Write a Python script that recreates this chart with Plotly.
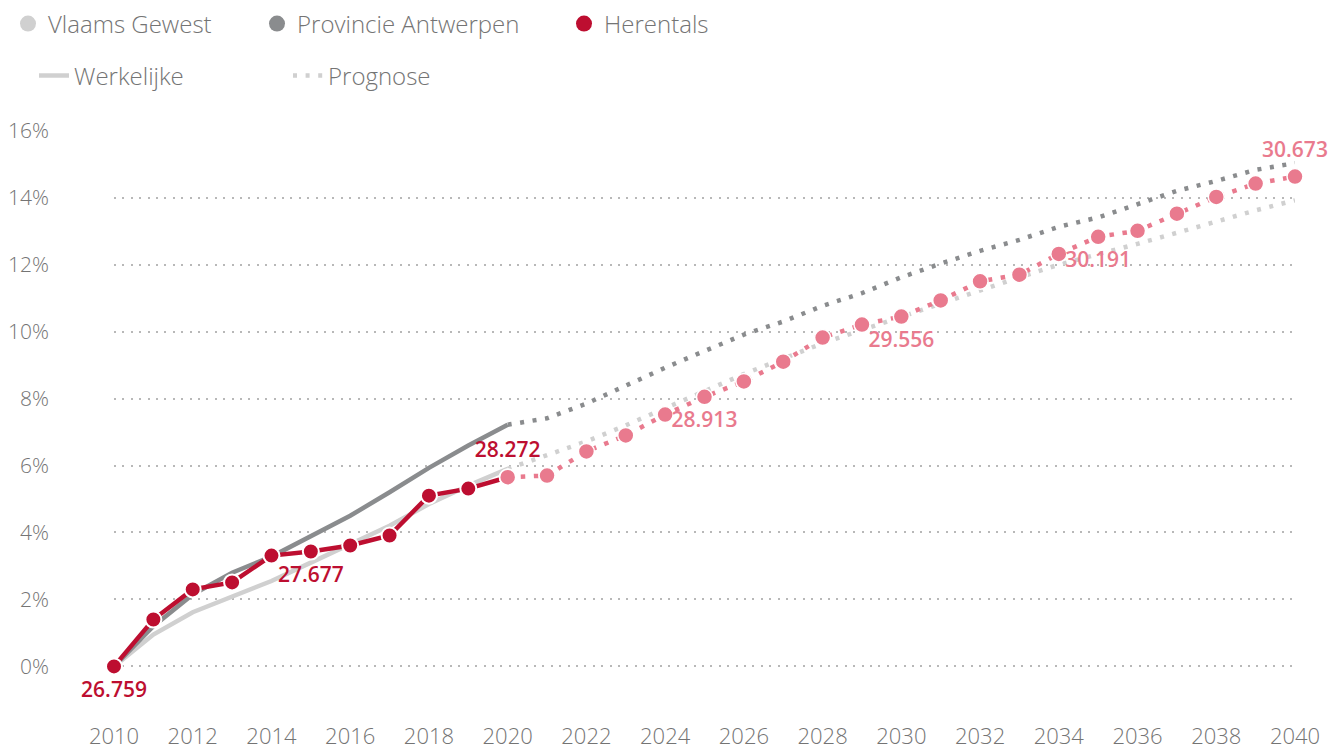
import plotly.graph_objects as go

# ---------------- data ----------------
years_actual = list(range(2010, 2021))
years_forecast = list(range(2020, 2041))

vlaams_actual = [0, 0.95, 1.62, 2.07, 2.55, 3.10, 3.65, 4.20, 4.85, 5.40, 5.90]
vlaams_forecast = [5.90, 6.30, 6.72, 7.20, 7.72, 8.24, 8.73, 9.19, 9.65, 10.05, 10.45,
                   10.85, 11.22, 11.62, 12.00, 12.30, 12.62, 12.95, 13.30, 13.62, 13.92]

antw_actual = [0, 1.20, 2.15, 2.80, 3.28, 3.88, 4.50, 5.20, 5.93, 6.60, 7.22]
antw_forecast = [7.22, 7.41, 7.85, 8.40, 8.92, 9.42, 9.91, 10.30, 10.77, 11.15, 11.62,
                 12.03, 12.41, 12.74, 13.13, 13.41, 13.80, 14.20, 14.50, 14.83, 15.03]

her_actual = [0, 1.40, 2.30, 2.51, 3.31, 3.43, 3.61, 3.91, 5.10, 5.31, 5.65]
her_forecast = [5.65, 5.70, 6.42, 6.90, 7.52, 8.05, 8.51, 9.10, 9.82, 10.21, 10.45,
                10.93, 11.50, 11.70, 12.32, 12.83, 13.01, 13.52, 14.02, 14.42, 14.63]

label_years = [2010, 2015, 2020, 2025, 2030, 2035, 2040]
label_values = [0, 3.43, 5.65, 8.05, 10.45, 12.83, 14.63]
label_texts = ["26.759", "27.677", "28.272", "28.913", "29.556", "30.191", "30.673"]
label_positions = ["bottom center", "bottom center", "top center", "bottom center",
                   "bottom center", "bottom center", "top center"]

x_ticks = list(range(2010, 2041, 2))
y_ticks = list(range(0, 17, 2))
y_ticktext = [f"{v}%" for v in y_ticks]

series_names = ["Vlaams Gewest", "Provincie Antwerpen", "Herentals"]
style_names = ["Werkelijke", "Prognose"]

# ---------------- styles ----------------
C_VL = "#d0d0d0"
C_AN = "#8a8c8e"
C_HE = "#bd0e30"
C_PK = "#e97a8e"
TXT = "#747474"
FONT = "Open Sans"
DOTS = "4px,8.6px"

fig = go.Figure()

# Vlaams Gewest
fig.add_trace(go.Scatter(x=years_actual, y=vlaams_actual, mode="lines",
                         line=dict(color=C_VL, width=4.5), showlegend=False, hoverinfo="skip"))
fig.add_trace(go.Scatter(x=years_forecast, y=vlaams_forecast, mode="lines",
                         line=dict(color=C_VL, width=4.5, dash=DOTS), showlegend=False, hoverinfo="skip"))
# Provincie Antwerpen
fig.add_trace(go.Scatter(x=years_actual, y=antw_actual, mode="lines",
                         line=dict(color=C_AN, width=4.5), showlegend=False, hoverinfo="skip"))
fig.add_trace(go.Scatter(x=years_forecast, y=antw_forecast, mode="lines",
                         line=dict(color=C_AN, width=4.5, dash=DOTS), showlegend=False, hoverinfo="skip"))
# Herentals
fig.add_trace(go.Scatter(x=years_actual, y=her_actual, mode="lines+markers",
                         line=dict(color=C_HE, width=4.5),
                         marker=dict(size=16, color=C_HE, line=dict(color="white", width=2)),
                         showlegend=False, cliponaxis=False, hoverinfo="skip"))
fig.add_trace(go.Scatter(x=years_forecast, y=her_forecast, mode="lines+markers",
                         line=dict(color=C_PK, width=4.5, dash="4.5px,8.6px"),
                         marker=dict(size=16, color=C_PK, line=dict(color="white", width=1.5)),
                         showlegend=False, cliponaxis=False, hoverinfo="skip"))
# labels
label_colors = [C_HE if y <= 2020 else C_PK for y in label_years]
fig.add_trace(go.Scatter(x=label_years, y=label_values, mode="markers+text",
                         text=label_texts, textposition=label_positions,
                         marker=dict(size=22, opacity=0),
                         textfont=dict(family=FONT, size=21, color=label_colors, weight=600),
                         showlegend=False, cliponaxis=False, hoverinfo="skip"))

# legend entries
legend_colors = [C_VL, C_AN, C_HE]
for i, (name, col) in enumerate(zip(series_names, legend_colors)):
    fig.add_trace(go.Scatter(x=[None], y=[None], mode="markers", name=name,
                             marker=dict(size=20, color=col),
                             legend="legend" if i == 0 else f"legend{i+1}"))
fig.add_trace(go.Scatter(x=[None], y=[None], mode="lines", name=style_names[0],
                         line=dict(color=C_VL, width=4.5), legend="legend4"))
fig.add_trace(go.Scatter(x=[None], y=[None], mode="lines", name=style_names[1],
                         line=dict(color=C_VL, width=4.5, dash=DOTS), legend="legend5"))

# the page body adds an 8px offset; figure is sized to fill the rest of the window
W, H = 1336, 746
def leg(px, py):
    return dict(orientation="h", xref="container", yref="container",
                x=px / W, y=1 - py / H, xanchor="left", yanchor="middle",
                font=dict(family=FONT, size=24, color=TXT, weight=300),
                bgcolor="rgba(0,0,0,0)", itemclick=False, itemdoubleclick=False)

fig.update_layout(
    width=W, height=H,
    margin=dict(l=106, r=49, t=122, b=34),
    plot_bgcolor="white", paper_bgcolor="white",
    font=dict(family=FONT, size=21, color=TXT, weight=300),
    legend=leg(-10, 16), legend2=leg(249, 16), legend3=leg(556, 16),
    legend4=leg(26, 68), legend5=leg(280, 68),
    xaxis=dict(range=[2010, 2040], tickvals=x_ticks, showgrid=False, zeroline=False,
               showline=False, ticks="", tickfont=dict(size=22, color=TXT, weight=300),
               ticklabelstandoff=1, automargin=False, fixedrange=True),
    yaxis=dict(range=[-1.6, 16.02], tickvals=y_ticks, ticktext=y_ticktext,
               showgrid=True, gridcolor="#b8b8b8", gridwidth=2, griddash="2px,6.4px",
               zeroline=False, showline=False, ticks="", tickfont=dict(size=21, color=TXT, weight=300),
               ticklabelstandoff=64, automargin=False, fixedrange=True),
    showlegend=True,
)

fig.write_html("out.html")
